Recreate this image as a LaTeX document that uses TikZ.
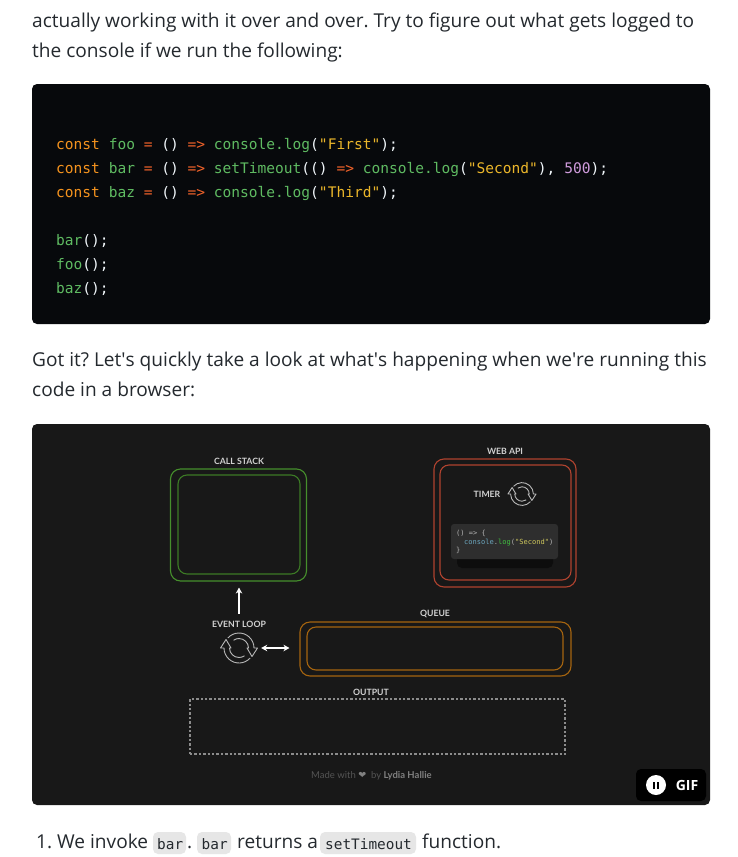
\documentclass[tikz,border=0pt]{standalone}
\usepackage{fontspec}
\setmainfont{Open Sans}
\newfontfamily\codefont{DejaVu Sans Mono}
\newfontfamily\labelfont{Lato}
\usetikzlibrary{calc,arrows.meta}
\definecolor{blockdark}{HTML}{07090C}
\definecolor{gifdark}{HTML}{181818}
\definecolor{bodyink}{HTML}{24292E}
\definecolor{stackgreen}{HTML}{468F2C}
\definecolor{apired}{HTML}{B0432F}
\definecolor{queueorange}{HTML}{A5640F}
\definecolor{kwd}{HTML}{F5931E}
\definecolor{opr}{HTML}{F0622A}
\definecolor{fnc}{HTML}{5FBB62}
\definecolor{str}{HTML}{EBB62A}
\definecolor{num}{HTML}{CF9BDC}
\definecolor{paren}{HTML}{F2F8FC}
\definecolor{chip}{HTML}{E6E6E6}
\def\K#1{\textcolor{kwd}{#1}}
\def\O#1{\textcolor{opr}{#1}}
\def\F#1{\textcolor{fnc}{#1}}
\def\S#1{\textcolor{str}{#1}}
\def\N#1{\textcolor{num}{#1}}
\def\syncicon(#1)(#2){%
	\begin{scope}[shift={(#1)}, y=1pt, scale=#2]
		\foreach \turn in {0,180}
			\draw[iconline, rotate=\turn] (138:15) arc (138:0:15) -- (18.5,0) -- (13,-8.5) -- (8,0) -- (9.5,0) arc (0:125:9.5);
	\end{scope}
}
\tikzset{
	bodytext/.style={anchor=base west, inner sep=0pt, text=bodyink, font=\fontsize{19.1}{19.1}\selectfont\frenchspacing},
	codeline/.style={anchor=base west, inner sep=0pt, text=paren, font=\fontsize{14.55}{14.55}\codefont},
	chiptext/.style={anchor=base west, inner sep=0pt, text=bodyink, font=\fontsize{14.4}{14.4}\codefont},
	chipbox/.style={fill=chip, rounded corners=5pt, draw=none},
	timertext/.style={anchor=base west, inner sep=0pt, text=white!70!black, font=\fontsize{7.05}{7.05}\codefont},
	panel/.style={draw=none, rounded corners=5pt, inner sep=0pt},
	outerbox/.style={draw, rounded corners=10pt, line width=1.1pt, inner sep=0pt, fill=none},
	innerbox/.style={draw, rounded corners=9pt, line width=1.1pt, inner sep=0pt, fill=none},
	sizebox/.style 2 args={minimum width=#1, minimum height=#2},
	gifcaption/.style={inner sep=0pt, text=white!82!black, font=\fontsize{8.7}{8.7}\labelfont\bfseries},
	iconline/.style={draw=white!72!black, line width=0.9pt, line join=round},
	flowarrow/.style={white, line width=1.3pt, -{Stealth[length=6pt,width=6.5pt]}},
}
\begin{document}
\begin{tikzpicture}[x=1pt, y=-1pt]
	\useasboundingbox (0,0) rectangle (737,857);
	\fill[white] (0,0) rectangle (737,857);

	%%%%% TEXT ABOVE %%%%%
	\node[bodytext] (introa) at (32,27.5) {actually working with it over and over. Try to figure out what gets logged to};
	\node[bodytext] (introb) at (32,57.5) {the console if we run the following:};

	%%%%% CODE BLOCK %%%%%
	\node[panel, fill=blockdark, sizebox={678pt}{240pt}] (codeblock) at (371,204) {};
	\node[codeline] (linefoo) at (56,149) {\K{const} \F{foo} \O{=} () \O{=>} \F{console.log}(\S{"First"});};
	\node[codeline] (linebar) at (56,173) {\K{const} \F{bar} \O{=} () \O{=>} \F{setTimeout}(() \O{=>} \F{console.log}(\S{"Second"}), \N{500});};
	\node[codeline] (linebaz) at (56,197) {\K{const} \F{baz} \O{=} () \O{=>} \F{console.log}(\S{"Third"});};
	\node[codeline] (callbar) at (56,245) {\F{bar}();};
	\node[codeline] (callfoo) at (56,269) {\F{foo}();};
	\node[codeline] (callbaz) at (56,293) {\F{baz}();};

	\node[bodytext] (gota) at (32,366.5) {Got it? Let\textquotesingle s quickly take a look at what\textquotesingle s happening when we\textquotesingle re running this};
	\node[bodytext] (gotb) at (32,396.5) {code in a browser:};

	%%%%% GIF %%%%%
	\node[panel, fill=gifdark, sizebox={678pt}{381pt}] (gifblock) at (371,614.5) {};

	\node[gifcaption] (stacklabel) at (239,461) {CALL STACK};
	\node[outerbox, draw=stackgreen, sizebox={136pt}{112pt}] (callstack) at (238.5,525) {};
	\node[innerbox, draw=stackgreen!85!black, sizebox={122pt}{99pt}] (stackinner) at (239,524.5) {};

	\node[gifcaption] (apilabel) at (505,451) {WEB API};
	\node[outerbox, draw=apired, sizebox={142pt}{128pt}] (webapi) at (505,523) {};
	\node[innerbox, draw=apired, sizebox={131pt}{115pt}] (apiinner) at (505.5,522.5) {};
	\node[gifcaption] (timerlabel) at (487,494.5) {TIMER};
	\syncicon(522,494)(0.76)

	\fill[black!95!white, rounded corners=5pt] (457,548) rectangle (553,568);
	\node[panel, fill=black!82!white, rounded corners=3pt, sizebox={107pt}{35pt}] (timercode) at (504.5,541.5) {};
	\node[timertext] (timera) at (456,535) {() => \{};
	\node[timertext] (timerb) at (464,544) {\textcolor{cyan!45!gray}{console}.\textcolor{green!50!gray}{log}(\textcolor{yellow!55!gray}{"Second"})};
	\node[timertext] (timerc) at (456,552) {\}};

	\node[gifcaption] (looplabel) at (239,624) {EVENT LOOP};
	\node[inner sep=0pt, minimum size=36pt] (loopicon) at (239,648) {};
	\syncicon(239,648)(1)
	\draw[flowarrow, shorten <=7pt, shorten >=6pt] (looplabel.north) -- (looplabel.north |- callstack.south);

	\node[gifcaption] (queuelabel) at (435,613.5) {QUEUE};
	\node[outerbox, draw=queueorange, sizebox={271pt}{54pt}] (queue) at (435.5,649) {};
	\node[innerbox, draw=queueorange, sizebox={256pt}{43pt}] (queueinner) at (435,648.5) {};
	\draw[flowarrow, {Stealth[length=6pt,width=6.5pt]}-{Stealth[length=6pt,width=6.5pt]}, shorten <=4pt, shorten >=10pt] (loopicon.east) -- (queue.west |- loopicon.east);

	\node[gifcaption] (outputlabel) at (371,692.5) {OUTPUT};
	\node[draw=white!55!black, dash pattern=on 2.4pt off 2pt, line width=1.1pt, inner sep=0pt, sizebox={375pt}{55pt}] (outputbox) at (377.5,726.5) {};

	\node[anchor=base west, inner sep=0pt, text=white!33!black, font=\fontsize{9.5}{9.5}\labelfont] (madewith) at (311,778.5) {Made with \textcolor{white!50!black}{\fontspec{DejaVu Sans}\char"2764}\ \ by \textcolor{white!50!black}{\bfseries Lydia Hallie}};

	\node[panel, fill=black, sizebox={70pt}{32pt}] (gifbadge) at (671,785) {};
	\node[circle, fill=white, inner sep=0pt, minimum size=20pt] (pausedot) at (656,785) {};
	\fill[black] (653.2,781.5) rectangle (654.9,788.5);
	\fill[black] (657.1,781.5) rectangle (658.8,788.5);
	\node[inner sep=0pt, text=white, font=\fontsize{14}{14}\selectfont\bfseries] (giftext) at (687,785.5) {GIF};

	%%%%% TEXT BELOW %%%%%
	\node[bodytext] (stepa) at (36,848) {1. We invoke};
	\node[chipbox, sizebox={33pt}{22pt}] (chipa) at (169.5,843) {};
	\node[chiptext] (chipatext) at (157,849) {bar};
	\node[bodytext] (stepdot) at (187,848) {.};
	\node[chipbox, sizebox={34pt}{22pt}] (chipb) at (214,843) {};
	\node[chiptext] (chipbtext) at (201.5,849) {bar};
	\node[bodytext] (stepb) at (237,848) {returns a};
	\node[chipbox, sizebox={96pt}{22pt}] (chipc) at (368,843) {};
	\node[chiptext] (chipctext) at (325,849) {setTimeout};
	\node[bodytext] (stepc) at (422,848) {function.};
\end{tikzpicture}
\end{document}
